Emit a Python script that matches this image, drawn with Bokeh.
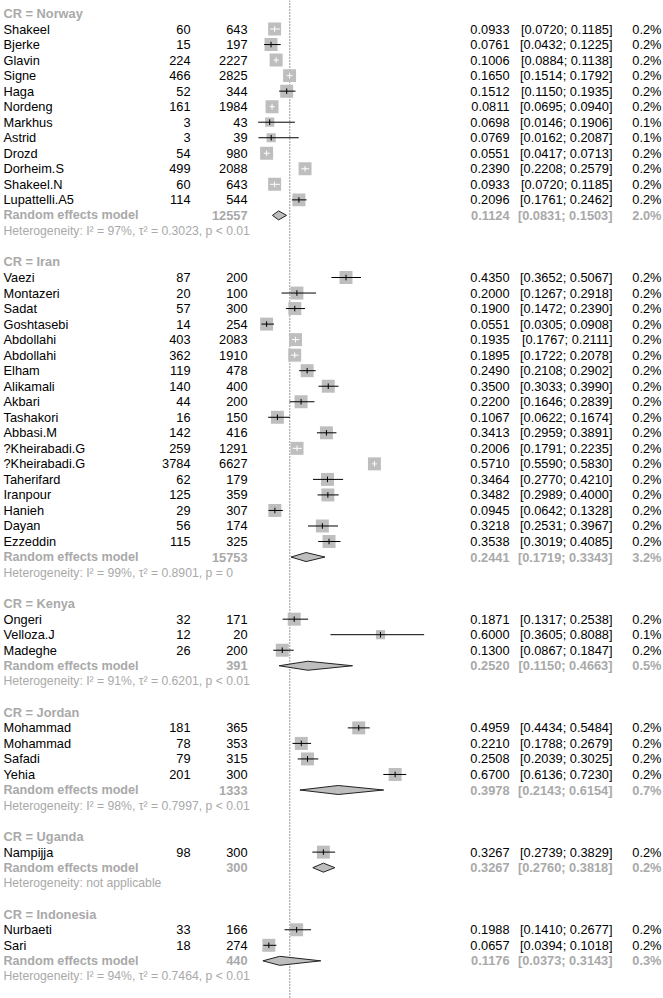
from math import sqrt
from bokeh.plotting import figure
from bokeh.models import Range1d, Span, ColumnDataSource
from bokeh.embed import file_html
from bokeh.resources import INLINE
from bokeh.core.properties import value

# ---------------- data ----------------
groups = ["Norway", "Iran", "Kenya", "Jordan", "Uganda", "Indonesia"]

study_group = (["Norway"] * 12 + ["Iran"] * 18 + ["Kenya"] * 3 +
               ["Jordan"] * 4 + ["Uganda"] * 1 + ["Indonesia"] * 2)
study = ["Shakeel", "Bjerke", "Glavin", "Signe", "Haga", "Nordeng", "Markhus", "Astrid",
         "Drozd", "Dorheim.S", "Shakeel.N", "Lupattelli.A5",
         "Vaezi", "Montazeri", "Sadat", "Goshtasebi", "Abdollahi", "Abdollahi", "Elham",
         "Alikamali", "Akbari", "Tashakori", "Abbasi.M", "?Kheirabadi.G", "?Kheirabadi.G",
         "Taherifard", "Iranpour", "Hanieh", "Dayan", "Ezzeddin",
         "Ongeri", "Velloza.J", "Madeghe",
         "Mohammad", "Mohammad", "Safadi", "Yehia",
         "Nampijja",
         "Nurbaeti", "Sari"]
events = [60, 15, 224, 466, 52, 161, 3, 3, 54, 499, 60, 114,
          87, 20, 57, 14, 403, 362, 119, 140, 44, 16, 142, 259, 3784, 62, 125, 29, 56, 115,
          32, 12, 26,
          181, 78, 79, 201,
          98,
          33, 18]
total = [643, 197, 2227, 2825, 344, 1984, 43, 39, 980, 2088, 643, 544,
         200, 100, 300, 254, 2083, 1910, 478, 400, 200, 150, 416, 1291, 6627, 179, 359, 307, 174, 325,
         171, 20, 200,
         365, 353, 315, 300,
         300,
         166, 274]
est = [0.0933, 0.0761, 0.1006, 0.1650, 0.1512, 0.0811, 0.0698, 0.0769, 0.0551, 0.2390, 0.0933, 0.2096,
       0.4350, 0.2000, 0.1900, 0.0551, 0.1935, 0.1895, 0.2490, 0.3500, 0.2200, 0.1067, 0.3413,
       0.2006, 0.5710, 0.3464, 0.3482, 0.0945, 0.3218, 0.3538,
       0.1871, 0.6000, 0.1300,
       0.4959, 0.2210, 0.2508, 0.6700,
       0.3267,
       0.1988, 0.0657]
lower = [0.0720, 0.0432, 0.0884, 0.1514, 0.1150, 0.0695, 0.0146, 0.0162, 0.0417, 0.2208, 0.0720, 0.1761,
         0.3652, 0.1267, 0.1472, 0.0305, 0.1767, 0.1722, 0.2108, 0.3033, 0.1646, 0.0622, 0.2959,
         0.1791, 0.5590, 0.2770, 0.2989, 0.0642, 0.2531, 0.3019,
         0.1317, 0.3605, 0.0867,
         0.4434, 0.1788, 0.2039, 0.6136,
         0.2739,
         0.1410, 0.0394]
upper = [0.1185, 0.1225, 0.1138, 0.1792, 0.1935, 0.0940, 0.1906, 0.2087, 0.0713, 0.2579, 0.1185, 0.2462,
         0.5067, 0.2918, 0.2390, 0.0908, 0.2111, 0.2078, 0.2902, 0.3990, 0.2839, 0.1674, 0.3891,
         0.2235, 0.5830, 0.4210, 0.4000, 0.1328, 0.3967, 0.4085,
         0.2538, 0.8088, 0.1847,
         0.5484, 0.2679, 0.3025, 0.7230,
         0.3829,
         0.2677, 0.1018]
weight = [0.2, 0.2, 0.2, 0.2, 0.2, 0.2, 0.1, 0.1, 0.2, 0.2, 0.2, 0.2,
          0.2, 0.2, 0.2, 0.2, 0.2, 0.2, 0.2, 0.2, 0.2, 0.2, 0.2, 0.2, 0.2, 0.2, 0.2, 0.2, 0.2, 0.2,
          0.2, 0.1, 0.2,
          0.2, 0.2, 0.2, 0.2,
          0.2,
          0.2, 0.2]

re_total = [12557, 15753, 391, 1333, 300, 440]
re_est = [0.1124, 0.2441, 0.2520, 0.3978, 0.3267, 0.1176]
re_lower = [0.0831, 0.1719, 0.1150, 0.2143, 0.2760, 0.0373]
re_upper = [0.1503, 0.3343, 0.4663, 0.6154, 0.3818, 0.3143]
re_weight = [2.0, 3.2, 0.5, 0.7, 0.2, 0.3]
het_i2 = [97, 99, 91, 98, None, 94]
het_tau2 = [0.3023, 0.8901, 0.6201, 0.7997, None, 0.7464]
het_p = ["< 0.01", "= 0", "< 0.01", "< 0.01", None, "< 0.01"]

overall_line = 0.166

# ---------------- layout ----------------
W, H = 663, 998
PITCH = 15.53          # px per row
TOP = 13.0             # px from top to first row
PPU = 209.0            # px per proportion unit
ZERO = 254.6           # screen x of proportion 0

FONT = value("Liberation Sans")
BLACK = "#000000"
GRAY = "#A9A9A9"
SQ = "#BEBEBE"

p = figure(width=W, height=H, output_backend="svg", toolbar_location=None,
           x_range=Range1d(-ZERO / PPU, (W - ZERO) / PPU),
           y_range=Range1d(-(H - TOP) / PITCH, TOP / PITCH),
           min_border=0, outline_line_color=None)
p.extra_x_ranges = {"px": Range1d(0, W)}
p.axis.visible = False
p.grid.visible = False
p.background_fill_color = "white"
p.border_fill_color = "white"

p.add_layout(Span(location=overall_line, dimension="height", line_color="#333333",
                  line_width=1, line_dash="1 2", level="underlay"))

# column positions (screen px)
X_NAME, X_EV, X_TOT, X_EST, X_CI, X_PCT = 3, 190, 247, 509, 612, 661

txt = {k: dict(x=[], y=[], t=[]) for k in
       ["name", "num", "hdr", "re_l", "re_r", "het"]}

def add(kind, x, y, t):
    txt[kind]["x"].append(x)
    txt[kind]["y"].append(y)
    txt[kind]["t"].append(t)

sq_x, sq_y, sq_s, ln_c = [], [], [], []
ln_x0, ln_x1 = [], []
dia_xs, dia_ys = [], []

row = 0
for gi, g in enumerate(groups):
    add("hdr", X_NAME, -row, f"CR = {g}")
    row += 1
    for i, sg in enumerate(study_group):
        if sg != g:
            continue
        y = -row
        add("name", X_NAME, y, study[i])
        add("num", X_EV, y, str(events[i]))
        add("num", X_TOT, y, str(total[i]))
        add("num", X_EST, y, f"{est[i]:.4f}")
        add("num", X_CI, y, f"[{lower[i]:.4f}; {upper[i]:.4f}]")
        add("num", X_PCT, y, f"{weight[i]:.1f}%")
        size = 29.0 * sqrt(weight[i])
        half = size / 2.0 / PPU
        inside = lower[i] >= est[i] - half and upper[i] <= est[i] + half
        sq_x.append(est[i]); sq_y.append(y); sq_s.append(size)
        ln_x0.append(lower[i]); ln_x1.append(upper[i])
        ln_c.append("white" if inside else "black")
        row += 1
    y = -row
    add("re_l", X_NAME, y, "Random effects model")
    add("re_r", X_TOT, y, str(re_total[gi]))
    add("re_r", X_EST, y, f"{re_est[gi]:.4f}")
    add("re_r", X_CI, y, f"[{re_lower[gi]:.4f}; {re_upper[gi]:.4f}]")
    add("re_r", X_PCT, y, f"{re_weight[gi]:.1f}%")
    dia_xs.append([re_lower[gi], re_est[gi], re_upper[gi], re_est[gi]])
    dia_ys.append([y, y + 0.29, y, y - 0.29])
    row += 1
    if het_i2[gi] is None:
        het = "Heterogeneity: not applicable"
    else:
        het = (f"Heterogeneity: I\u00b2 = {het_i2[gi]}%, \u03c4\u00b2 = "
               f"{het_tau2[gi]:.4f}, p {het_p[gi]}")
    add("het", X_NAME, -row, het)
    row += 2

# forest marks
p.scatter(x=sq_x, y=sq_y, size=sq_s, marker="square", fill_color=SQ, line_color=None)
p.segment(x0=ln_x0, y0=sq_y, x1=ln_x1, y1=sq_y, line_color=ln_c, line_width=1)
p.segment(x0=sq_x, y0=[v - 0.18 for v in sq_y], x1=sq_x, y1=[v + 0.18 for v in sq_y],
          line_color=ln_c, line_width=1)
p.patches(xs=dia_xs, ys=dia_ys, fill_color=SQ, line_color="#222222", line_width=1)

styles = {
    "name": dict(color=BLACK, style="normal", align="left", size="12.8px"),
    "num": dict(color=BLACK, style="normal", align="right", size="12.8px"),
    "hdr": dict(color=GRAY, style="bold", align="left", size="12.8px"),
    "re_l": dict(color=GRAY, style="bold", align="left", size="12.6px"),
    "re_r": dict(color=GRAY, style="bold", align="right", size="12.8px"),
    "het": dict(color=GRAY, style="normal", align="left", size="12.2px"),
}
for k, st in styles.items():
    src = ColumnDataSource(dict(x=txt[k]["x"], y=txt[k]["y"], t=txt[k]["t"]))
    p.text(x="x", y="y", text="t", source=src, x_range_name="px",
           text_font=FONT, text_font_size=st["size"], text_font_style=st["style"],
           text_color=st["color"], text_align=st["align"], text_baseline="middle")

open("out.html", "w").write(file_html(p, INLINE))
